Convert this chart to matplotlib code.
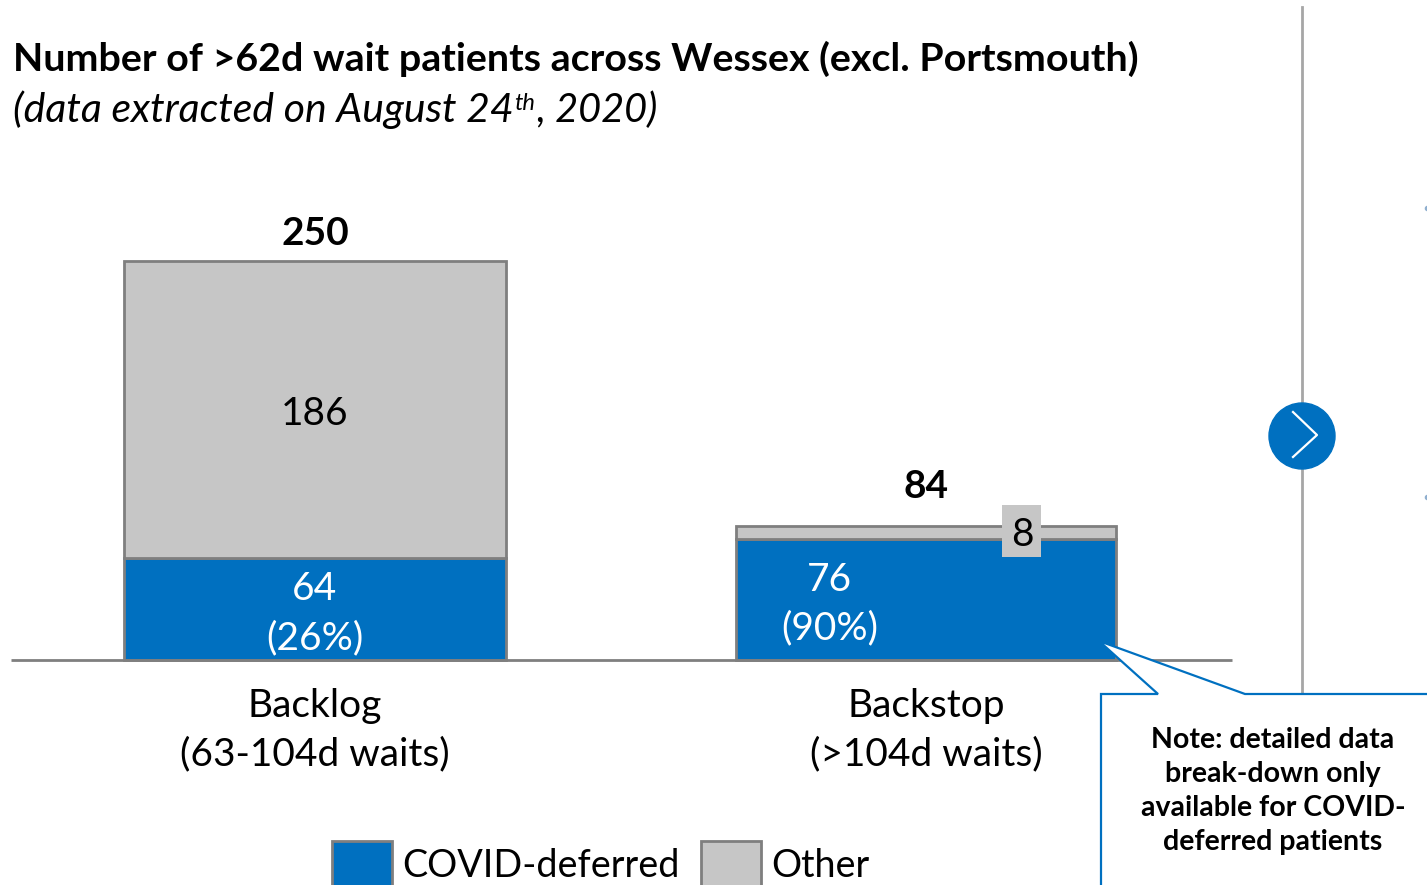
import matplotlib
matplotlib.use("Agg")
import matplotlib.pyplot as plt
from matplotlib.patches import Circle, Polygon, Rectangle

plt.rcParams["font.family"] = ["Lato", "DejaVu Sans"]

categories = ["Backlog\n(63-104d waits)", "Backstop\n(>104d waits)"]
covid = [64, 76]
other = [186, 8]
totals = [250, 84]
covid_labels = ["64\n(26%)", "76\n(90%)"]
series_names = ["COVID-deferred", "Other"]

BLUE = "#0070C0"
GREY = "#C6C6C6"
EDGE = "#7F7F7F"
W, H = 1427, 885

fig = plt.figure(figsize=(W / 100, H / 100), dpi=100)

ax = fig.add_axes([11 / W, (H - 660) / H, (1232 - 11) / W, 460 / H])
ax.patch.set_alpha(0)
ax.set_xlim((11 - 315) / 611, (1232 - 315) / 611)
ax.set_ylim(0, 460 / 1.596)

x = [0, 1]
widths = [0.625, 0.621]
b1 = ax.bar(x, covid, widths, color=BLUE, edgecolor=EDGE, linewidth=2, label=series_names[0], clip_on=False)
b2 = ax.bar(x, other, widths, bottom=covid, color=GREY, edgecolor=EDGE, linewidth=2, label=series_names[1], clip_on=False)

for s in ["top", "left", "right"]:
    ax.spines[s].set_visible(False)
ax.spines["bottom"].set_color(EDGE)
ax.spines["bottom"].set_linewidth(2)
ax.spines["bottom"].set_capstyle("butt")
ax.set_yticks([])
ax.set_xticks(x)
ax.set_xticklabels(categories, fontsize=28, linespacing=1.44)
ax.tick_params(axis="x", length=0, pad=20)

ax.text(0, 256, str(totals[0]), ha="center", va="bottom", fontsize=28, fontweight="bold")
ax.text(1, 97.5, str(totals[1]), ha="center", va="bottom", fontsize=28, fontweight="bold")

ax.text(0, 64 + 90, str(other[0]), ha="center", va="center", fontsize=28)
ax.text(0, 29, covid_labels[0], ha="center", va="center", fontsize=28, color="white", linespacing=1.44)
ax.text(0.842, 35, covid_labels[1], ha="center", va="center", fontsize=28, color="white", linespacing=1.44)

ax.legend(handles=[b1, b2], ncols=2, frameon=False, fontsize=27.2, loc="lower left",
          bbox_to_anchor=(332 / W, -2 / H), bbox_transform=fig.transFigure, borderpad=0, borderaxespad=0,
          handlelength=1.58, handleheight=1.48, handletextpad=0.27, columnspacing=0.58)

# divider, arrow button, note callout
top = fig.add_axes([0, 0, 1, 1])
top.set_xlim(0, W)
top.set_ylim(H, 0)
top.axis("off")
top.add_patch(Rectangle((1002, 505), 39, 52, facecolor=GREY, edgecolor="none"))
top.text(1022, 535, str(other[1]), ha="center", va="center", fontsize=28)
top.plot([1302, 1302], [7, 694], color="#A6A6A6", lw=2)
top.add_patch(Circle((1302, 436), 33, color=BLUE, zorder=3))
top.plot([1293, 1317, 1293], [412, 435, 457], color="white", lw=1.6, zorder=4)
top.add_patch(Polygon([(1101, 890), (1101, 694), (1158, 694), (1099, 641), (1245, 694), (1432, 694), (1432, 890)],
                      closed=True, facecolor="white", edgecolor=BLUE, lw=1.6, zorder=3))
top.text(1273, 791, "Note: detailed data\nbreak-down only\navailable for COVID-\ndeferred patients",
         ha="center", va="center", fontsize=20.5, fontweight="bold", linespacing=1.39, zorder=5)
top.plot([1426.5, 1426.5], [208, 497], ls="none", marker="o", ms=3, color="#8FAFCF")

top.text(13, 59, "Number of >62d wait patients across Wessex (excl. Portsmouth)", va="center",
         fontsize=28.4, fontweight="bold")
top.text(13, 110, "(data extracted on August 24", va="center", fontsize=29.5, style="italic")
top.text(514, 103, "th", va="center", fontsize=17, style="italic")
top.text(537, 110, ", 2020)", va="center", fontsize=28.6, style="italic")

fig.savefig("out.png", dpi=100)
